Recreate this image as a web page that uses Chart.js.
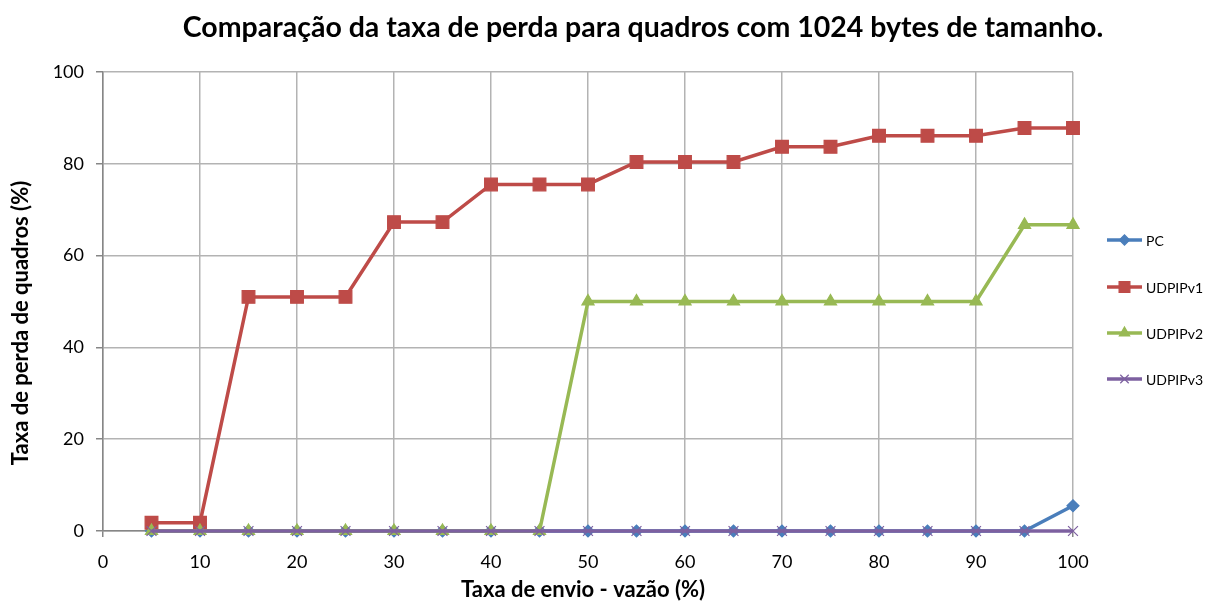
<!DOCTYPE html>
<html>
<head>
<meta charset="utf-8">
<script src="https://cdn.jsdelivr.net/npm/chart.js@4.4.1/dist/chart.umd.min.js"></script>
<style>
  html, body { margin: 0; padding: 0; background: #fff; }
  #wrap { width: 1205px; height: 603px; position: relative; }
</style>
</head>
<body>
<div id="wrap"><canvas id="chart"></canvas></div>
<script>
// data
const sendRate = [5, 10, 15, 20, 25, 30, 35, 40, 45, 50, 55, 60, 65, 70, 75, 80, 85, 90, 95, 100];
const pcLoss      = [0, 0, 0, 0, 0, 0, 0, 0, 0, 0, 0, 0, 0, 0, 0, 0, 0, 0, 0, 5.5];
const udpipv1Loss = [1.8, 1.8, 51, 51, 51, 67.3, 67.3, 75.5, 75.5, 75.5, 80.4, 80.4, 80.4, 83.7, 83.7, 86.1, 86.1, 86.1, 87.8, 87.8];
const udpipv2Loss = [0, 0, 0, 0, 0, 0, 0, 0, 0, 50, 50, 50, 50, 50, 50, 50, 50, 50, 66.7, 66.7];
const udpipv3Loss = [0, 0, 0, 0, 0, 0, 0, 0, 0, 0, 0, 0, 0, 0, 0, 0, 0, 0, 0, 0];
const seriesNames = ['PC', 'UDPIPv1', 'UDPIPv2', 'UDPIPv3'];
const chartTitle = 'Comparação da taxa de perda para quadros com 1024 bytes de tamanho.';
const xTitle = 'Taxa de envio - vazão (%)';
const yTitle = 'Taxa de perda de quadros (%)';

const FONT = 'Lato, "Open Sans", sans-serif';

function pts(values) {
    return values.map((v, i) => ({ x: sendRate[i], y: v }));
}

const series = [
    { label: seriesNames[0], data: pts(pcLoss), color: '#4a7ebb', pointStyle: 'rectRot', radius: 6, order: 4 },
    { label: seriesNames[1], data: pts(udpipv1Loss), color: '#be4b48', pointStyle: 'rect', radius: 9, order: 3 },
    { label: seriesNames[2], data: pts(udpipv2Loss), color: '#98b954', pointStyle: 'triangle', radius: 7, order: 2 },
    { label: seriesNames[3], data: pts(udpipv3Loss), color: '#7d60a0', pointStyle: 'crossRot', radius: 7, order: 1 }
];

// titles placed like the spreadsheet did it + legend on the right
const decor = {
    id: 'decor',
    afterDraw(chart) {
        const ctx = chart.ctx;
        ctx.save();
        ctx.fillStyle = '#000';
        ctx.textAlign = 'center';
        ctx.textBaseline = 'middle';
        ctx.font = 'bold 28.5px ' + FONT;
        ctx.fillText(chartTitle, 643, 28);

        ctx.font = 'bold 22px ' + FONT;
        ctx.fillText(xTitle, 583, 590);
        ctx.save();
        ctx.translate(21, 323);
        ctx.rotate(-Math.PI / 2);
        ctx.fillText(yTitle, 0, 0);
        ctx.restore();

        const ys = [240, 287, 333, 379];
        chart.data.datasets.forEach((ds, i) => {
            const y = ys[i];
            ctx.strokeStyle = ds.borderColor;
            ctx.lineWidth = 3.5;
            ctx.beginPath();
            ctx.moveTo(1107, y);
            ctx.lineTo(1142, y);
            ctx.stroke();
            ctx.fillStyle = ds.pointBackgroundColor;
            ctx.strokeStyle = ds.pointBorderColor;
            ctx.lineWidth = ds.pointBorderWidth;
            Chart.helpers.drawPoint(ctx, {
                pointStyle: ds.pointStyle,
                radius: ds.pointRadius * 0.85,
                rotation: 0,
                borderWidth: ds.pointBorderWidth
            }, 1124.5, y);
            ctx.fillStyle = '#000';
            ctx.font = '14px ' + FONT;
            ctx.textAlign = 'left';
            ctx.fillText(ds.label, 1146, y + 1);
        });
        ctx.restore();
    }
};

new Chart(document.getElementById('chart'), {
    type: 'line',
    data: {
        datasets: series.map(s => ({
            label: s.label,
            data: s.data,
            borderColor: s.color,
            backgroundColor: s.color,
            pointBackgroundColor: s.color,
            pointBorderColor: s.color,
            pointBorderWidth: 1.2,
            pointStyle: s.pointStyle,
            pointRadius: s.radius,
            borderWidth: 3.5,
            tension: 0,
            fill: false,
            clip: false,
            order: s.order
        }))
    },
    options: {
        responsive: true,
        maintainAspectRatio: false,
        animation: false,
        layout: { padding: { left: 0, right: 132, top: 72, bottom: 0 } },
        plugins: {
            legend: { display: false },
            tooltip: { enabled: false },
            title: { display: false }
        },
        scales: {
            x: {
                type: 'linear',
                min: 0,
                max: 100,
                ticks: { stepSize: 10, color: '#000', font: { family: FONT, size: 18 }, padding: 14, maxRotation: 0 },
                grid: { color: '#b3b3b3', lineWidth: 1.5, tickLength: 6, tickColor: '#868686' },
                border: { color: '#868686', width: 1.5 },
                afterFit(scale) { scale.height = 72; }
            },
            y: {
                min: 0,
                max: 100,
                ticks: { stepSize: 20, color: '#000', font: { family: FONT, size: 18 }, padding: 12 },
                grid: { color: '#b3b3b3', lineWidth: 1.5, tickLength: 7, tickColor: '#868686' },
                border: { color: '#868686', width: 1.5 },
                afterFit(scale) { scale.width = 103; }
            }
        }
    },
    plugins: [decor]
});
</script>
</body>
</html>
